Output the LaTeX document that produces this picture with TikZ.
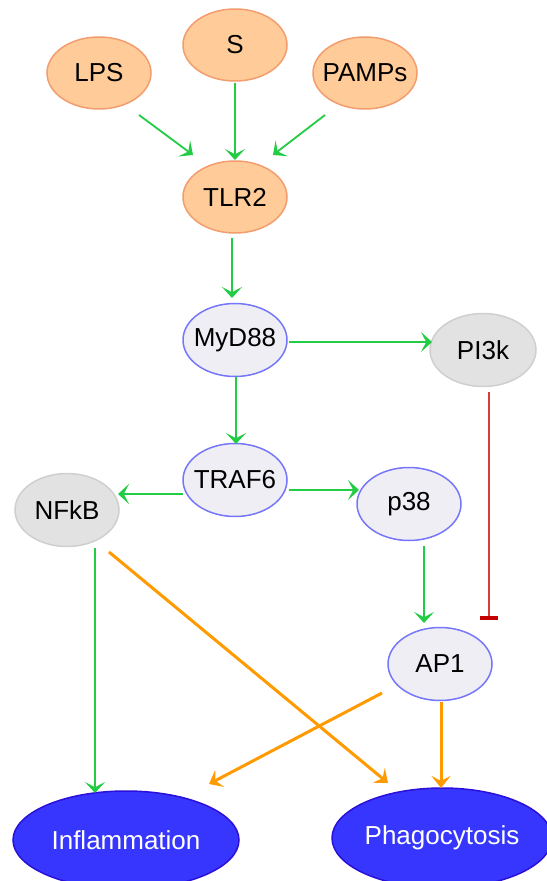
\documentclass[tikz,border=0pt]{standalone}
\usepackage{fontspec}
\setmainfont{Liberation Sans}
\usetikzlibrary{shapes.geometric,arrows.meta}
\definecolor{peachfill}{HTML}{FFCC99}
\definecolor{peachdraw}{HTML}{F39C6E}
\definecolor{lavfill}{HTML}{EEEEF4}
\definecolor{lavdraw}{HTML}{7676FA}
\definecolor{grayfill}{HTML}{E2E2E2}
\definecolor{graydraw}{HTML}{CFCFCF}
\definecolor{bluefill}{HTML}{3636FF}
\definecolor{bluedraw}{HTML}{2A10D8}
\definecolor{actgreen}{HTML}{22CC44}
\definecolor{actorange}{HTML}{FF9A00}
\definecolor{inhred}{HTML}{D93A3E}
\definecolor{tbarred}{HTML}{C40000}
\newcommand{\nlbl}[1]{\makebox[0pt]{#1}}
\tikzset{
  base/.style={ellipse, inner sep=0pt, line width=0.75pt, font=\fontsize{13pt}{15pt}\selectfont},
  peach/.style={base, fill=peachfill, draw=peachdraw, minimum width=52pt, minimum height=36pt},
  lav/.style={base, fill=lavfill, draw=lavdraw, minimum width=52pt, minimum height=36.5pt},
  grey/.style={base, fill=grayfill, draw=graydraw, minimum width=52pt, minimum height=36.5pt},
  outcome/.style={base, fill=bluefill, draw=bluedraw, text=white},
  garr/.style={draw=actgreen, line width=0.9pt, -{Stealth[length=5.5pt, width=10pt, inset=2.6pt]}},
  oarr/.style={draw=actorange, line width=1.5pt, -{Stealth[length=6pt, width=9.5pt, inset=2.4pt]}},
  inh/.style={draw=inhred, line width=0.8pt, -{Bar[width=9pt, line width=2pt, color=tbarred]}},
}
\begin{document}
\begin{tikzpicture}[x=0.5pt,y=-0.5pt]
\useasboundingbox (0,0) rectangle (546,881);
% nodes
\node[peach] (LPS) at (99,73) {\nlbl{LPS}};
\node[peach] (S) at (235,45) {\nlbl{S}};
\node[peach] (PAMPs) at (365,73) {\nlbl{PAMPs}};
\node[peach] (TLR2) at (235,197) {\nlbl{TLR2}};
\node[lav] (MyD88) at (235,340) {\nlbl{MyD88}};
\node[grey, minimum width=53pt] (PI3k) at (483,350) {\nlbl{PI3k}};
\node[lav] (TRAF6) at (235,480) {\nlbl{TRAF6}};
\node[grey] (NFkB) at (67,510) {\nlbl{NFkB}};
\node[lav] (p38) at (409,504) {\nlbl{p38}};
\node[lav] (AP1) at (440,664) {\nlbl{AP1}};
\node[outcome, minimum width=113pt, minimum height=49pt] (Infl) at (126,840) {\nlbl{Inflammation}};
\node[outcome, minimum width=110pt, minimum height=50pt] (Phago) at (442,838) {\nlbl{Phagocytosis}};
% connectors
\draw[garr] ([shift={(40,42)}]LPS.center) -- ([shift={(-42,-42)}]TLR2.center);
\draw[garr] ([shift={(0,38)}]S.center) -- ([shift={(0,-37)}]TLR2.center);
\draw[garr] ([shift={(-40,42)}]PAMPs.center) -- ([shift={(38,-42)}]TLR2.center);
\draw[garr] ([shift={(-3,41)}]TLR2.center) -- ([shift={(-3,-42)}]MyD88.center);
\draw[garr] ([shift={(54,2)}]MyD88.center) -- ([shift={(-51,-8)}]PI3k.center);
\draw[garr] ([shift={(1,37)}]MyD88.center) -- ([shift={(1,-36)}]TRAF6.center);
\draw[garr] ([shift={(-52,14)}]TRAF6.center) -- ([shift={(51,-16)}]NFkB.center);
\draw[garr] ([shift={(54,10)}]TRAF6.center) -- ([shift={(-50,-14)}]p38.center);
\draw[inh] ([shift={(6,42)}]PI3k.center) -- ([shift={(49,-44)}]AP1.center);
\draw[garr] ([shift={(15,42)}]p38.center) -- ([shift={(-16,-41)}]AP1.center);
\draw[garr] ([shift={(28,38)}]NFkB.center) -- ([shift={(-31,-47)}]Infl.center);
\draw[oarr] ([shift={(42,42)}]NFkB.center) -- ([shift={(-54,-55)}]Phago.center);
\draw[oarr] ([shift={(-58,29)}]AP1.center) -- ([shift={(83,-56)}]Infl.center);
\draw[oarr] ([shift={(1,38)}]AP1.center) -- ([shift={(-1,-50)}]Phago.center);
\end{tikzpicture}
\end{document}
